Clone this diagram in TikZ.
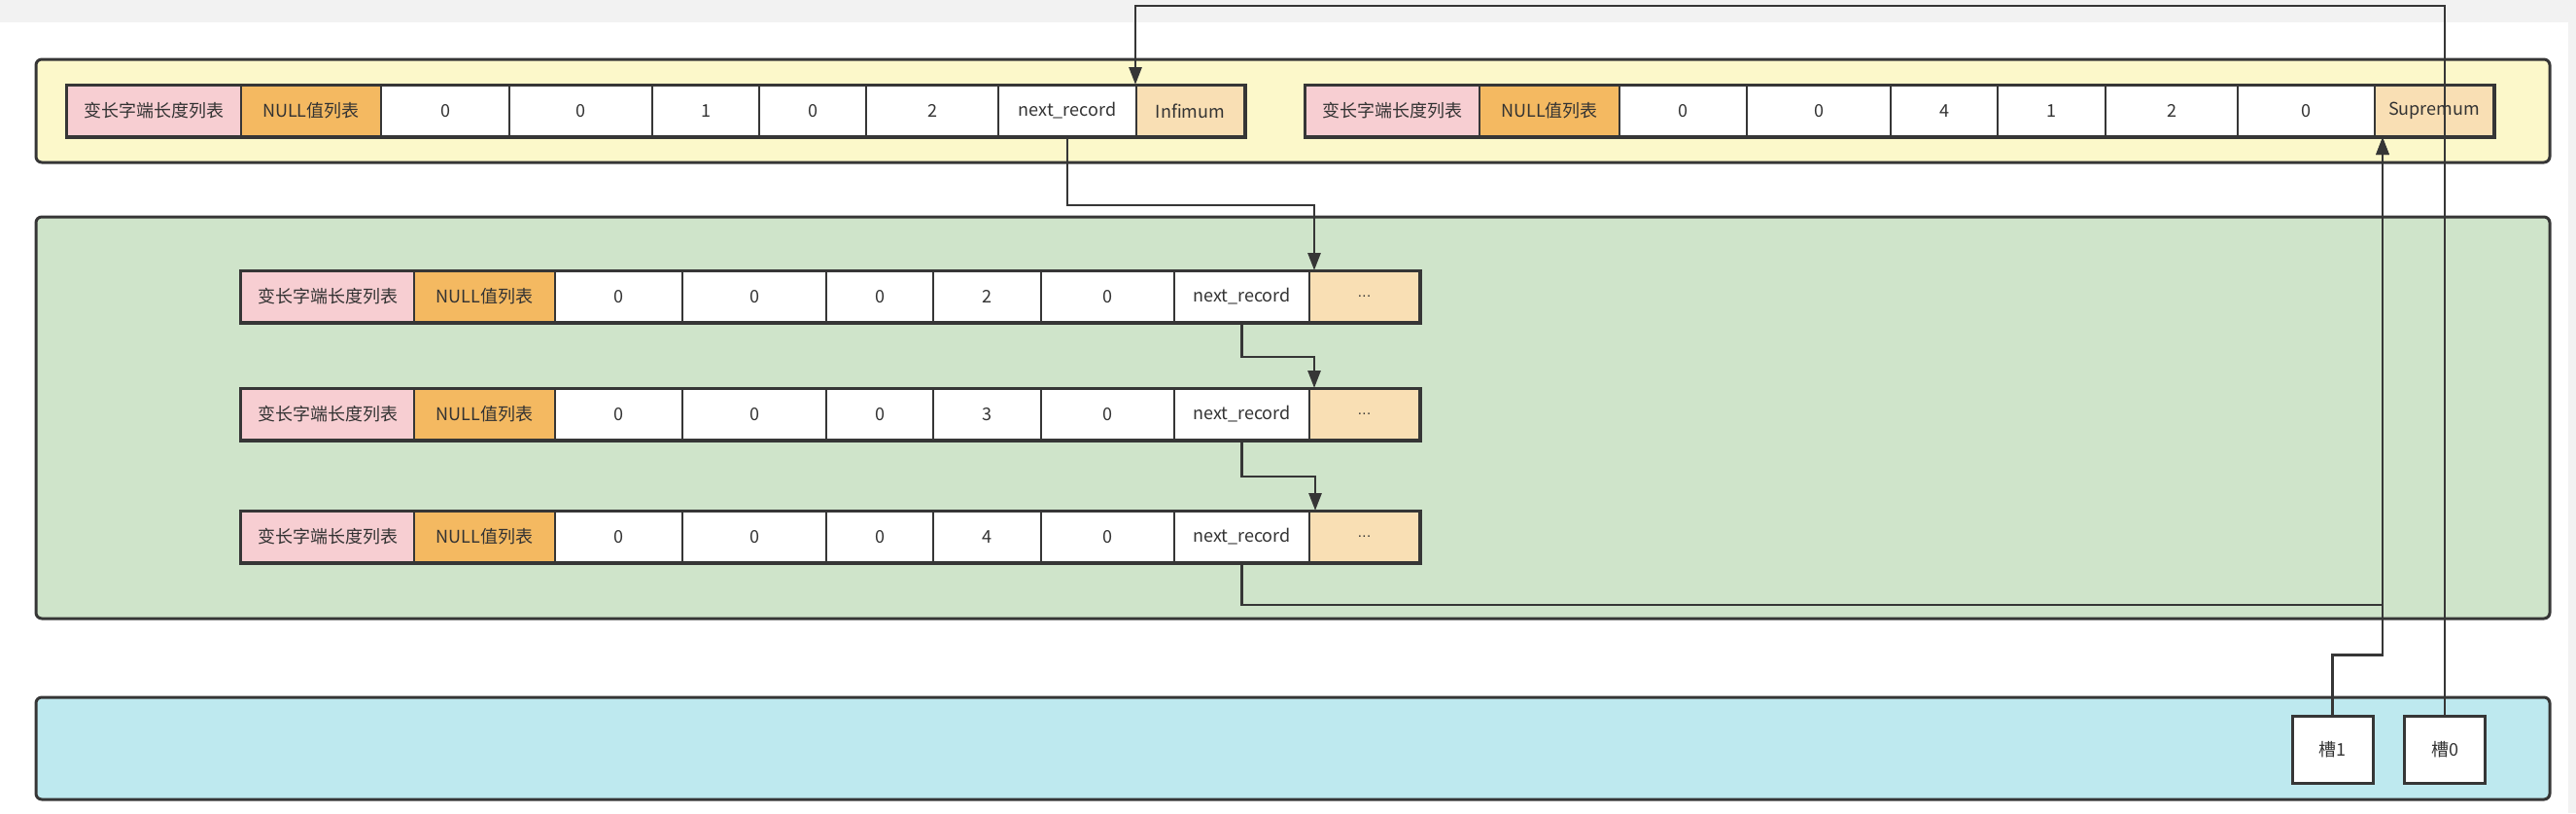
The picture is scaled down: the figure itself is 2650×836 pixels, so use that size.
\documentclass[tikz,border=0pt]{standalone}
\usepackage{fontspec}
\newfontfamily\cjk{Noto Sans CJK SC}
\newfontfamily\latinf{Liberation Sans}
\usetikzlibrary{arrows.meta,calc}
\definecolor{ink}{HTML}{363636}
\definecolor{txt}{HTML}{333333}
\definecolor{bandc}{HTML}{F2F2F2}
\definecolor{pinkc}{HTML}{F7CED2}
\definecolor{orangec}{HTML}{F4B961}
\definecolor{peachc}{HTML}{F9DFB4}
\definecolor{yellowc}{HTML}{FCF8CA}
\definecolor{greenc}{HTML}{CFE4CA}
\definecolor{bluec}{HTML}{BEE9EF}
\newcommand\myellip{{\latinf\fontsize{15}{18}\selectfont .\kern0.5pt.\kern0.5pt.}}
\tikzset{
  cell/.style={draw=ink,line width=2pt,inner sep=0pt,minimum height=52pt,
    font=\cjk\fontsize{18}{22}\selectfont,text=txt},
  pk/.style={fill=pinkc},
  og/.style={fill=orangec},
  wh/.style={fill=white},
  pc/.style={fill=peachc},
  recframe/.style={draw=ink,line width=3pt},
  container/.style={draw=ink,line width=3pt,rounded corners=6pt},
  slotbox/.style={draw=ink,fill=white,line width=3pt,inner sep=0pt,
    minimum width=83pt,minimum height=69pt,
    font=\cjk\fontsize{18}{22}\selectfont,text=txt},
  conn/.style={draw=ink,line width=2.8pt},
  arr/.style={conn,-{Triangle[length=18pt,width=13pt]}}
}
\newcommand\mkrecord[3]{%
  \foreach \xa/\xb/\t/\s [count=\k] in {#3} {
    \pgfmathsetmacro\w{\xb-\xa}
    \pgfmathsetmacro\cx{(\xa+\xb)/2}
    \node[cell,\s,minimum width=\w pt] (#1\k) at (\cx,#2+26) {\t};
  }
  \draw[recframe] (#11.north west) rectangle (#19.south east);
}
\begin{document}
\begin{tikzpicture}[x=1pt,y=-1pt]
\useasboundingbox (0,0) rectangle (2650,836);
\fill[white] (0,0) rectangle (2650,836);
\fill[bandc] (0,0) rectangle (2650,23);
\fill[bandc] (2642,23) rectangle (2650,836);

% containers
\draw[container,fill=yellowc] (37,61) rectangle (2623,167);
\draw[container,fill=greenc] (37,223) rectangle (2623,636);
\draw[container,fill=bluec] (37,717) rectangle (2623,822);

% top records
\mkrecord{L}{88}{69/248/变长字端长度列表/pk, 248/392/NULL值列表/og, 392/524/0/wh, 524/671/0/wh, 671/781/1/wh, 781/891/0/wh, 891/1027/2/wh, 1027/1169/next\_record/wh, 1169/1280/Infimum/pc}
\mkrecord{R}{88}{1343/1522/变长字端长度列表/pk, 1522/1666/NULL值列表/og, 1666/1797/0/wh, 1797/1945/0/wh, 1945/2055/4/wh, 2055/2166/1/wh, 2166/2302/2/wh, 2302/2443/0/wh, 2443/2565/Supremum/pc}

% user records
\mkrecord{A}{279}{248/426/变长字端长度列表/pk, 426/571/NULL值列表/og, 571/702/0/wh, 702/850/0/wh, 850/960/0/wh, 960/1071/2/wh, 1071/1208/0/wh, 1208/1347/next\_record/wh, 1347/1460/\myellip/pc}
\mkrecord{B}{400}{248/426/变长字端长度列表/pk, 426/571/NULL值列表/og, 571/702/0/wh, 702/850/0/wh, 850/960/0/wh, 960/1071/3/wh, 1071/1208/0/wh, 1208/1347/next\_record/wh, 1347/1460/\myellip/pc}
\mkrecord{C}{526}{248/426/变长字端长度列表/pk, 426/571/NULL值列表/og, 571/702/0/wh, 702/850/0/wh, 850/960/0/wh, 960/1071/4/wh, 1071/1208/0/wh, 1208/1347/next\_record/wh, 1347/1460/\myellip/pc}

% slots
\node[slotbox] (s1) at (2399.5,770.5) {槽1};
\node[slotbox] (s0) at (2515,770.5) {槽0};

% connectors
\coordinate (topy) at (0,6);
\draw[arr] (s0.north) -- (s0.north |- topy) -| (L9.north west);
\draw[arr] (L8.south) -- ++(0,70) -| ([xshift=6pt]A9.north west);
\draw[arr] (A8.south) -- ++(0,35) -| ([xshift=6pt]B9.north west);
\draw[arr] (B8.south) -- ++(0,37) -| ([xshift=7pt]C9.north west);
\draw[arr] (C8.south) -- ++(0,43) -| ([xshift=9pt]R9.south west);
\draw[arr] (s1.north) -- ++(0,-61) -| ([xshift=9pt]R9.south west);
\end{tikzpicture}
\end{document}
